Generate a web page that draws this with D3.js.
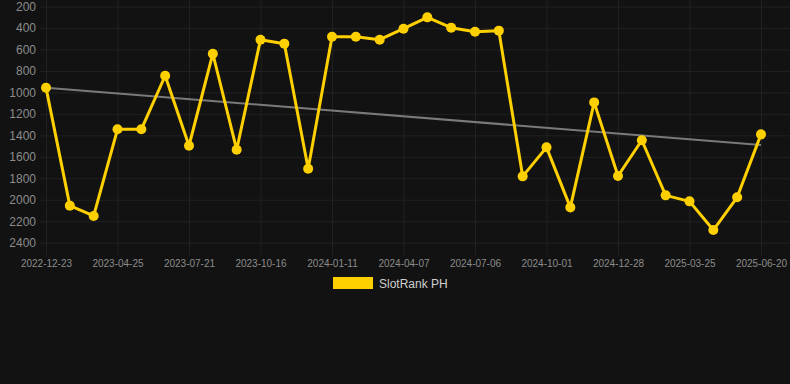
<!DOCTYPE html>
<html>
<head>
<meta charset="utf-8">
<script src="https://cdn.jsdelivr.net/npm/d3@7"></script>
<style>
  html, body { margin: 0; padding: 0; background: #121212; }
  svg { display: block; font-family: "Liberation Sans", Arial, Helvetica, sans-serif; }
</style>
</head>
<body>
<script>
// data
const dates = [
  "2022-12-23", "2023-02-02", "2023-03-15", "2023-04-25", "2023-05-24", "2023-06-22",
  "2023-07-21", "2023-08-19", "2023-09-17", "2023-10-16", "2023-11-14", "2023-12-13",
  "2024-01-11", "2024-02-09", "2024-03-09", "2024-04-07", "2024-05-07", "2024-06-06",
  "2024-07-06", "2024-08-04", "2024-09-02", "2024-10-01", "2024-10-30", "2024-11-28",
  "2024-12-28", "2025-01-26", "2025-02-24", "2025-03-25", "2025-04-23", "2025-05-22",
  "2025-06-20"
];
const rank = [
  956, 2055, 2151, 1344, 1344, 845, 1497, 640, 1534, 509, 546, 1711,
  481, 481, 509, 407, 301, 397, 435, 425, 1782, 1512, 2071, 1093,
  1779, 1446, 1959, 2015, 2282, 1977, 1391
];
const trend = [956, 1490];   // start / end of the trend line
const yTicks = [200, 400, 600, 800, 1000, 1200, 1400, 1600, 1800, 2000, 2200, 2400];
const seriesName = "SlotRank PH";

const W = 790, H = 384;
const svg = d3.select("body").append("svg").attr("width", W).attr("height", H);

svg.append("rect").attr("width", W).attr("height", H).attr("fill", "#121212");

const x = d3.scalePoint().domain(dates).range([46, 761]);
const y = d3.scaleLinear().domain([200, 2400]).range([6.5, 242.7]);

// horizontal grid + y labels
const yAxis = svg.append("g")
  .attr("transform", "translate(40,0)")
  .call(d3.axisLeft(y).tickValues(yTicks).tickSize(-750).tickPadding(4).tickFormat(d3.format("d")));
yAxis.select(".domain").remove();
yAxis.selectAll("line").attr("stroke", "#212121");
yAxis.selectAll("text").attr("fill", "#8c8c8c").attr("font-size", 12);

// vertical grid + x labels
const xShown = dates.filter((d, i) => i % 3 === 0);
const xAxis = svg.append("g")
  .attr("transform", "translate(0,249)")
  .call(d3.axisBottom(x).tickValues(xShown).tickSize(6).tickPadding(5));
xAxis.select(".domain").remove();
xAxis.selectAll("line").attr("stroke", "#212121").attr("y1", -249);
xAxis.selectAll("text").attr("fill", "#8c8c8c").attr("font-size", 10);

// trend line
const trendX = [dates[0], dates[dates.length - 1]];
svg.append("line")
  .attr("x1", x(trendX[0])).attr("y1", y(trend[0]))
  .attr("x2", x(trendX[1])).attr("y2", y(trend[1]))
  .attr("stroke", "#7a7a7a").attr("stroke-width", 2);

// series
const line = d3.line().x((d, i) => x(dates[i])).y(d => y(d));
svg.append("path")
  .datum(rank)
  .attr("d", line)
  .attr("fill", "none")
  .attr("stroke", "#ffd000")
  .attr("stroke-width", 3)
  .attr("stroke-linejoin", "round");

svg.selectAll("circle.pt")
  .data(rank)
  .enter()
  .append("circle")
  .attr("class", "pt")
  .attr("cx", (d, i) => x(dates[i]))
  .attr("cy", d => y(d))
  .attr("r", 5)
  .attr("fill", "#ffd000");

// legend
const leg = svg.append("g").attr("transform", "translate(333,277)");
leg.append("rect").attr("width", 40).attr("height", 12).attr("fill", "#ffd000");
leg.append("text").attr("x", 46).attr("y", 10.5)
  .attr("fill", "#cfcfcf").attr("font-size", 12).text(seriesName);
</script>
</body>
</html>
